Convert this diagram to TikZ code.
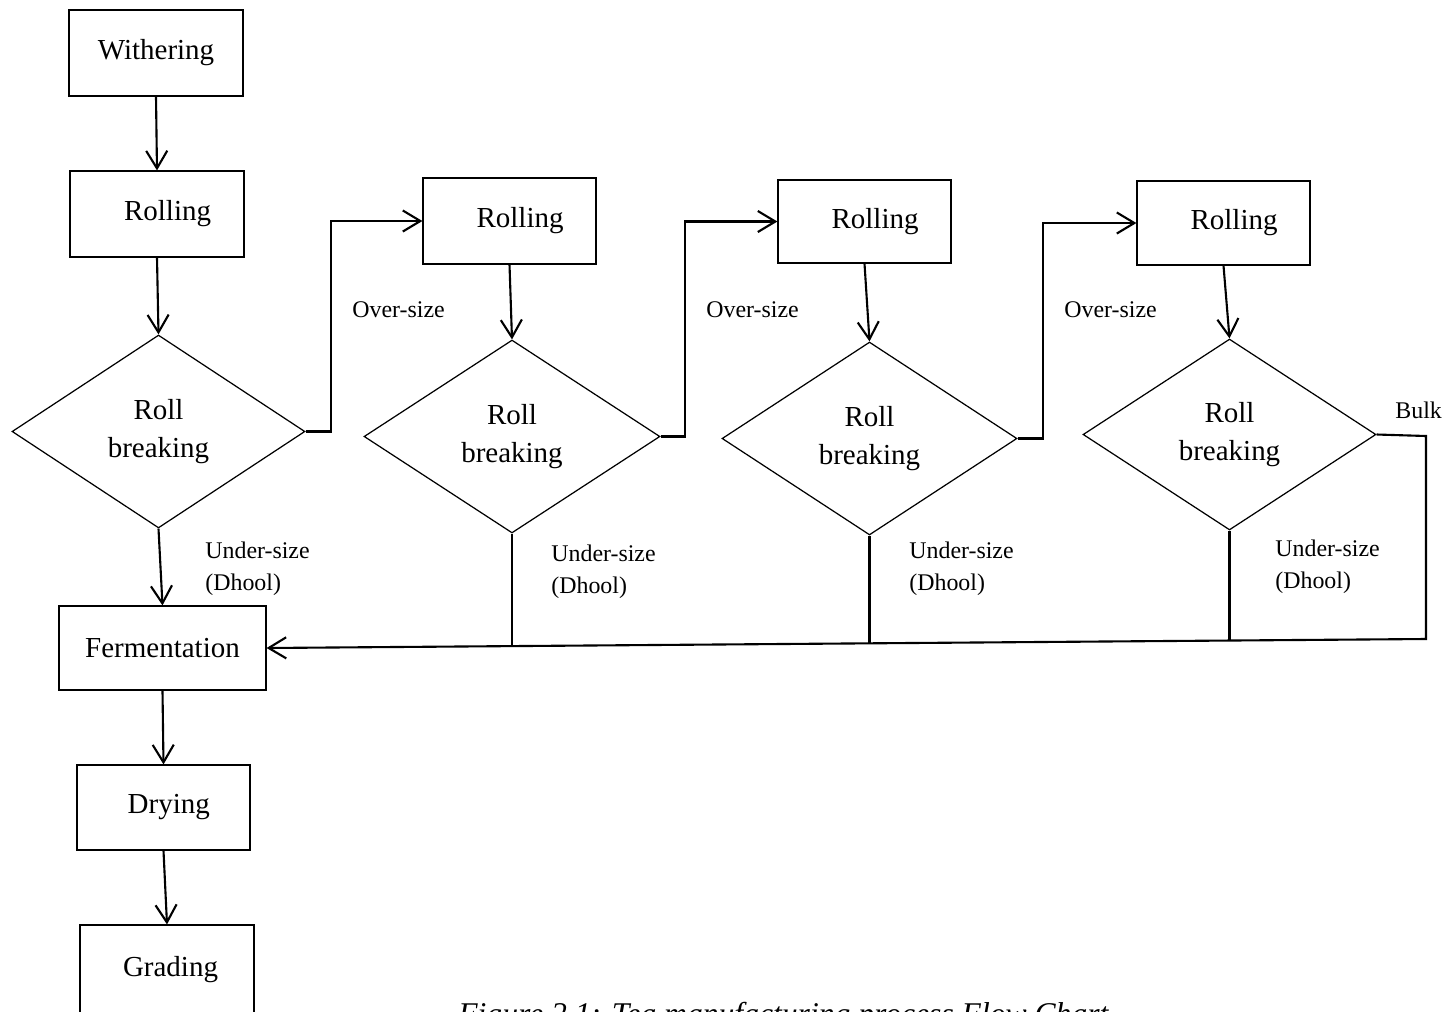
\documentclass[tikz,border=0pt]{standalone}
\usepackage{fontspec}
\setmainfont{Liberation Serif}
\usetikzlibrary{arrows.meta,shapes.geometric}
\begin{document}
\begin{tikzpicture}[x=0.02cm,y=-0.02cm,
  box/.style={draw,line width=0.7pt,rectangle,inner sep=0pt,font=\fontsize{16.5}{20}\selectfont},
  dia/.style={draw,line width=0.7pt,diamond,inner sep=0pt,shape aspect=1.5,align=center,font=\fontsize{16.5}{21.6}\selectfont},
  arr/.style={line width=1.2pt,-{Straight Barb[length=10pt,width=12pt]}},
  ln/.style={line width=1.2pt},
  lbl/.style={anchor=west,inner sep=0pt,align=left,font=\fontsize{13.6}{18.2}\selectfont}]
\clip (0,0) rectangle (1449,1011);
% boxes
\node[box,minimum width=3.48cm,minimum height=1.72cm] (with) at (156,53) {Withering};
\node[box,minimum width=3.48cm,minimum height=1.72cm] (roll1) at (157,214) {\hspace{12pt}Rolling};
\node[box,minimum width=3.46cm,minimum height=1.72cm] (roll2) at (509.5,221) {\hspace{12pt}Rolling};
\node[box,minimum width=3.46cm,minimum height=1.66cm] (roll3) at (864.5,221.5) {\hspace{12pt}Rolling};
\node[box,minimum width=3.46cm,minimum height=1.68cm] (roll4) at (1223.5,223) {\hspace{12pt}Rolling};
\node[box,minimum width=4.14cm,minimum height=1.68cm] (ferm) at (162.5,648) {Fermentation\hspace{8pt}};
\node[box,minimum width=3.46cm,minimum height=1.70cm] (dry) at (163.5,807.5) {\hspace{6pt}Drying};
\node[box,minimum width=3.48cm,minimum height=1.80cm] (grad) at (167,970) {\hspace{4pt}Grading};
% diamonds
\node[dia,minimum width=5.86cm,minimum height=3.86cm] (d1) at (158.5,431.5) {Roll\\breaking};
\node[dia,minimum width=5.92cm,minimum height=3.86cm] (d2) at (512,436.5) {Roll\\breaking};
\node[dia,minimum width=5.90cm,minimum height=3.86cm] (d3) at (869.5,438.5) {Roll\\breaking};
\node[dia,minimum width=5.86cm,minimum height=3.82cm] (d4) at (1229.5,434.5) {Roll\\breaking};
% vertical flow
\draw[arr] (with.south) -- (roll1.north);
\draw[arr] (roll1.south) -- (d1.north);
\draw[arr] (roll2.south) -- (d2.north);
\draw[arr] (roll3.south) -- (d3.north);
\draw[arr] (roll4.south) -- (d4.north);
\draw[arr] (d1.south) -- (ferm.north);
\draw[arr] (ferm.south) -- (dry.north);
\draw[arr] (dry.south) -- (grad.north);
% over-size branches
\draw[arr] (d1.east) -- ++(25,0) |- (roll2.west);
\draw[arr] (d2.east) -- ++(24,0) |- (roll3.west);
\draw[arr] (d3.east) -- ++(25,0) |- (roll4.west);
% return line
\coordinate (bk) at (1426,436);
\coordinate (bc) at (1426,639);
\coordinate (j2) at (512,646.1);
\coordinate (j3) at (869.5,643.3);
\coordinate (j4) at (1229.5,640.5);
\draw[arr] (d4.east) -- (bk) -- (bc) -- (ferm.east);
\draw[ln] (d2.south) -- (j2);
\draw[ln] (d3.south) -- (j3);
\draw[ln] (d4.south) -- (j4);
% labels
\node[lbl] (o1) at (352,310) {Over-size};
\node[lbl] (o2) at (706,310) {Over-size};
\node[lbl] (o3) at (1064,310) {Over-size};
\node[lbl] (bulk) at (1395,410) {Bulk};
\node[lbl] (u1) at (205,569) {Under-size\\(Dhool)};
\node[lbl] (u2) at (551,572) {Under-size\\(Dhool)};
\node[lbl] (u3) at (909,569) {Under-size\\(Dhool)};
\node[lbl] (u4) at (1275,567) {Under-size\\(Dhool)};
% caption
\node[anchor=base west,inner sep=0pt,font=\fontsize{18}{22}\selectfont\itshape] (cap) at (458,1024) {Figure 2.1: Tea manufacturing process Flow Chart};
\end{tikzpicture}
\end{document}
